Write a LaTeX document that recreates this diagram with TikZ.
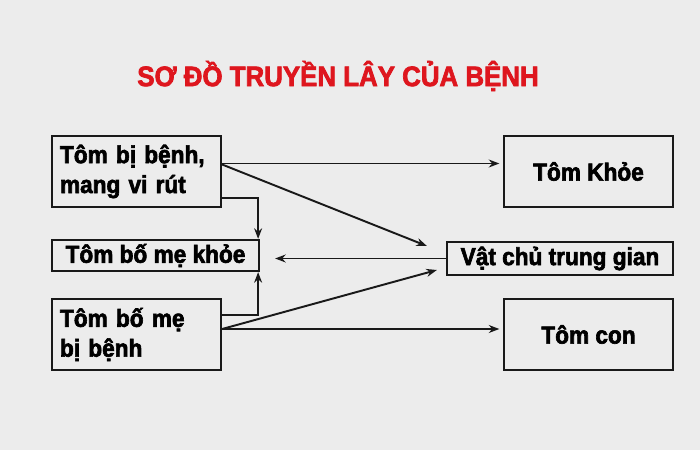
\documentclass[tikz,border=0pt]{standalone}
\usepackage{fontspec}
\setmainfont{Liberation Sans}[FakeStretch=0.92, BoldFeatures={FakeBold=2.5}]
\usepackage{xcolor}
\usetikzlibrary{arrows.meta}

\definecolor{bgGray}{RGB}{236,236,236}
\definecolor{titleRed}{RGB}{222,22,30}
\definecolor{lineDark}{RGB}{25,25,25}

\tikzset{
	box/.style={draw=lineDark, line width=1.3pt, font=\bfseries\fontsize{14}{17}\selectfont, inner xsep=0.16cm},
	link/.style={draw=lineDark, line width=1.1pt, -{Stealth[length=6pt,width=4.5pt]}}
}

\begin{document}
\begin{tikzpicture}[x=0.02cm, y=0.02cm]
				\fill[bgGray] (0,0) rectangle (700,450);
				\useasboundingbox (0,0) rectangle (700,450);

				\node[text=titleRed, font=\bfseries\fontsize{16}{19}\selectfont] (title) at (338,374) {SƠ ĐỒ TRUYỀN LÂY CỦA BỆNH};

				% left column
				\node[box, minimum width=3.38cm, minimum height=1.42cm, text width=3.06cm, align=left] (sick) at (136.5,278.5) {Tôm bị bệnh,\\mang vi rút};
				\node[box, minimum width=4.14cm, minimum height=0.62cm, inner ysep=0pt] (parentsOk) at (155.5,194.5) {Tôm bố mẹ khỏe};
				\node[box, minimum width=3.38cm, minimum height=1.42cm, text width=3.06cm, align=left] (parentsSick) at (136.5,115.5) {Tôm bố mẹ\\bị bệnh};

				% right column
				\node[box, minimum width=3.38cm, minimum height=1.42cm] (healthy) at (588.5,278.5) {Tôm Khỏe};
				\node[box, minimum width=4.52cm, minimum height=0.66cm, inner ysep=0pt] (host) at (560,191.5) {Vật chủ trung gian};
				\node[box, minimum width=3.38cm, minimum height=1.42cm] (young) at (588.5,115.5) {Tôm con};

				\draw[link] ([yshift=0.16cm]sick.east) -- ([xshift=-2pt,yshift=0.16cm]healthy.west);
				\draw[link] ([yshift=0.14cm]sick.east) -- ([xshift=-0.38cm,yshift=0.25cm]host.west);
				\draw[link] ([yshift=-0.53cm]sick.east) -| ([xshift=-0.04cm]parentsOk.north east);
				\draw[link] (host.west) -- ([xshift=0.3cm]parentsOk.east |- host.west);
				\draw[link] ([yshift=0.39cm]parentsSick.east) -| ([xshift=-0.04cm]parentsOk.south east);
				\draw[link] ([yshift=0.11cm]parentsSick.east) -- ([xshift=-0.18cm,yshift=-0.23cm]host.west);
				\draw[link] ([yshift=0.11cm]parentsSick.east) -- ([xshift=-2pt,yshift=0.11cm]young.west);
			\end{tikzpicture}
\end{document}
